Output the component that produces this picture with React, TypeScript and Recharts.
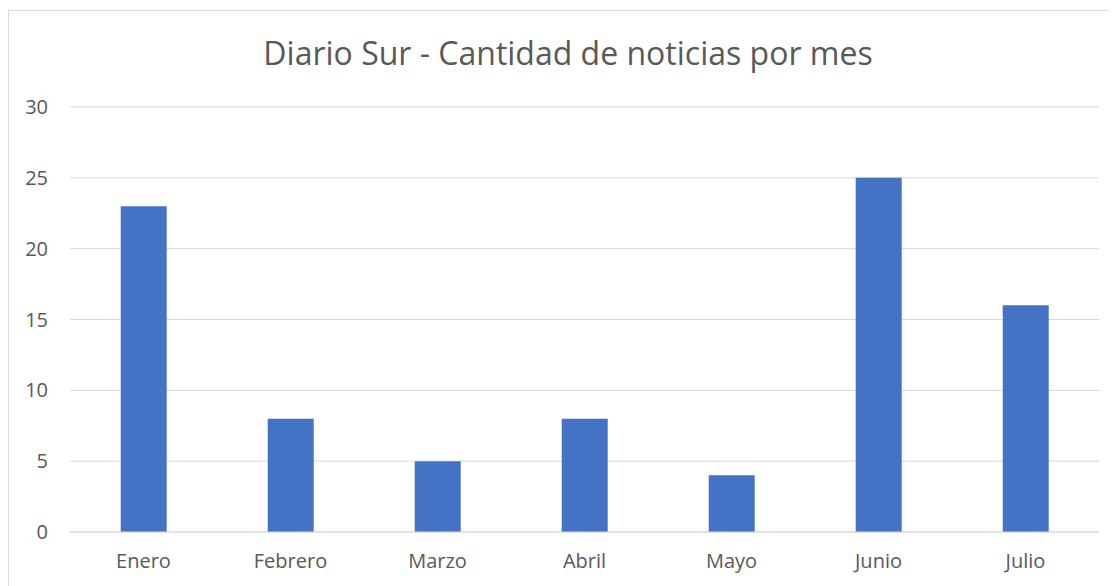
import React from "react";
import { BarChart, Bar, XAxis, YAxis, CartesianGrid } from "recharts";

const months = ["Enero", "Febrero", "Marzo", "Abril", "Mayo", "Junio", "Julio"];
const noticias = [23, 8, 5, 8, 4, 25, 16];
const yTicks = [0, 5, 10, 15, 20, 25, 30];
const title = "Diario Sur - Cantidad de noticias por mes";

const data = months.map((m, i) => ({ mes: m, noticias: noticias[i] }));

const FONT = "'Open Sans', sans-serif";
const TEXT = "#595959";

export default function App() {
  return (
    <div
      style={{
        position: "relative",
        width: 1118,
        height: 580,
        marginTop: 2,
        border: "1px solid #d9d9d9",
        background: "#fff",
        fontFamily: FONT,
      }}
    >
      <div
        style={{
          position: "absolute",
          left: 0,
          width: 1118,
          top: 20,
          textAlign: "center",
          fontSize: 32,
          color: TEXT,
          fontFamily: FONT,
          whiteSpace: "nowrap",
        }}
      >
        {title}
      </div>
      <BarChart
        width={1108}
        height={578}
        data={data}
        margin={{ top: 96, right: 18, bottom: 0, left: 0 }}
        barCategoryGap="34.5%"
      >
        <CartesianGrid vertical={false} stroke="#d9d9d9" strokeWidth={1} />
        <XAxis
          dataKey="mes"
          axisLine={{ stroke: "#d9d9d9" }}
          tickLine={false}
          tickSize={0}
          tickMargin={22}
          height={57}
          tick={{ fill: TEXT, fontSize: 20, fontFamily: FONT }}
          interval={0}
        />
        <YAxis
          width={61}
          domain={[0, 30]}
          ticks={yTicks}
          axisLine={false}
          tickLine={false}
          tickSize={0}
          tickMargin={22}
          tick={{ fill: TEXT, fontSize: 20, fontFamily: FONT }}
        />
        <Bar dataKey="noticias" fill="#4472C4" isAnimationActive={false} />
      </BarChart>
    </div>
  );
}
